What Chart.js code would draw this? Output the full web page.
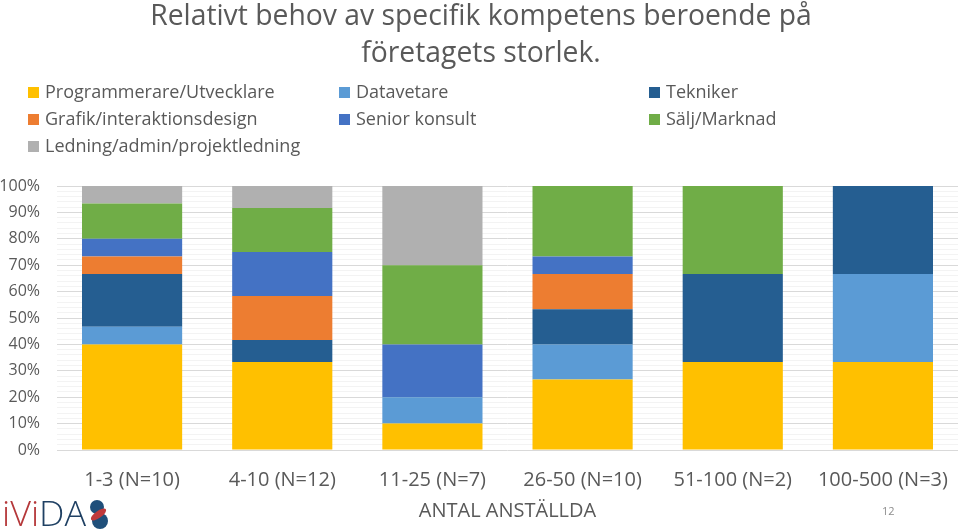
<!DOCTYPE html>
<html>
<head>
<meta charset="utf-8">
<script src="https://cdn.jsdelivr.net/npm/chart.js@4"></script>
<style>
  html, body { margin: 0; padding: 0; background: #fff; }
  #wrap { position: relative; width: 960px; height: 530px; overflow: hidden; font-family: "Open Sans", sans-serif; color: #595959; }
  #c { position: absolute; left: 0; top: 0; }
  #title { position: absolute; left: 0; width: 962px; top: -4px; text-align: center; font-size: 28.3px; line-height: 37px; font-weight: 400; }
  #legend { position: absolute; left: 0; top: 0; width: 960px; height: 170px; }
  .li { position: absolute; font-size: 18px; line-height: 20px; white-space: nowrap; }
  .li span.box { display: inline-block; width: 11px; height: 11px; margin-right: 6px; vertical-align: 0px; }
  #page { position: absolute; left: 882px; top: 503px; font-size: 11px; color: #8c8c8c; }
  #logo { position: absolute; left: 0px; top: 494px; }
</style>
</head>
<body>
<div id="wrap">
  <canvas id="c" width="960" height="530"></canvas>
  <div id="title">Relativt behov av specifik kompetens beroende på<br>företagets storlek.</div>
  <div id="legend"></div>
  <div id="page">12</div>
  <svg id="logo" width="112" height="36" viewBox="0 0 112 36">
    <text x="2" y="32" font-family="Open Sans, sans-serif" font-size="34" font-weight="300" textLength="84" lengthAdjust="spacingAndGlyphs"><tspan fill="#b5383a">iVi</tspan><tspan fill="#1f4063">DA</tspan></text>
    <circle cx="97" cy="13" r="7" fill="#1f4f7a"/>
    <circle cx="100" cy="27" r="8" fill="#1f4f7a"/>
    <ellipse cx="98.5" cy="20.5" rx="9" ry="3.5" fill="#c0393b" transform="rotate(-35 98.5 20.5)"/>
  </svg>
</div>
<script>
const categories = ["1-3 (N=10)", "4-10 (N=12)", "11-25 (N=7)", "26-50 (N=10)", "51-100 (N=2)", "100-500 (N=3)"];
const seriesNames = ["Programmerare/Utvecklare", "Datavetare", "Tekniker", "Grafik/interaktionsdesign", "Senior konsult", "Sälj/Marknad", "Ledning/admin/projektledning"];
const seriesColors = ["#FFC000", "#5B9BD5", "#255E91", "#ED7D31", "#4472C4", "#70AD47", "#B0B0B0"];
// percent share per category
const programmerare = [40.0, 33.33, 10, 26.67, 33.33, 33.33];
const datavetare    = [6.67, 0, 10, 13.33, 0, 33.33];
const tekniker      = [20.0, 8.33, 0, 13.33, 33.33, 33.34];
const grafik        = [6.67, 16.67, 0, 13.33, 0, 0];
const seniorKonsult = [6.67, 16.67, 20, 6.67, 0, 0];
const saljMarknad   = [13.33, 16.67, 30, 26.67, 33.34, 0];
const ledning       = [6.66, 8.33, 30, 0, 0, 0];
const yTickLabels = ["0%", "10%", "20%", "30%", "40%", "50%", "60%", "70%", "80%", "90%", "100%"];

const seriesData = [programmerare, datavetare, tekniker, grafik, seniorKonsult, saljMarknad, ledning];

// HTML legend in 3 columns
const legend = document.getElementById('legend');
const colX = [28, 339, 649];
const rowY = [81, 108, 135];
seriesNames.forEach((n, i) => {
  const d = document.createElement('div');
  d.className = 'li';
  d.style.left = colX[i % 3] + 'px';
  d.style.top = rowY[Math.floor(i / 3)] + 'px';
  d.innerHTML = '<span class="box" style="background:' + seriesColors[i] + '"></span>' + n;
  legend.appendChild(d);
});

new Chart(document.getElementById('c'), {
  type: 'bar',
  data: {
    labels: categories,
    datasets: seriesNames.map((n, i) => ({
      label: n,
      data: seriesData[i],
      backgroundColor: seriesColors[i],
      borderWidth: 0,
      categoryPercentage: 1,
      barPercentage: 0.667
    }))
  },
  options: {
    responsive: false,
    animation: false,
    layout: { padding: { top: 186, right: 2, left: 0, bottom: 0 } },
    plugins: { legend: { display: false }, title: { display: false }, tooltip: { enabled: false } },
    scales: {
      x: {
        stacked: true,
        grid: { display: false },
        border: { display: false },
        ticks: { color: '#595959', font: { family: 'Open Sans', size: 20 }, padding: 10, maxRotation: 0, autoSkip: false },
        title: { display: true, text: 'ANTAL ANSTÄLLDA', color: '#595959', font: { family: 'Open Sans', size: 20 }, padding: { top: 2, bottom: 7 } },
        afterFit: (s) => { s.height = 80; }
      },
      y: {
        stacked: true,
        min: 0, max: 100,
        ticks: {
          stepSize: 2,
          autoSkip: false,
          color: '#595959',
          font: { family: 'Open Sans', size: 16 },
          padding: 17,
          callback: (v) => (v % 10 === 0 ? yTickLabels[v / 10] : '')
        },
        grid: {
          drawTicks: false,
          color: (ctx) => (ctx.tick && ctx.tick.value % 10 === 0 ? '#D9D9D9' : '#F3F3F3'),
          lineWidth: 1
        },
        border: { display: false },
        afterFit: (s) => { s.width = 57; }
      }
    }
  }
});
</script>
</body>
</html>
